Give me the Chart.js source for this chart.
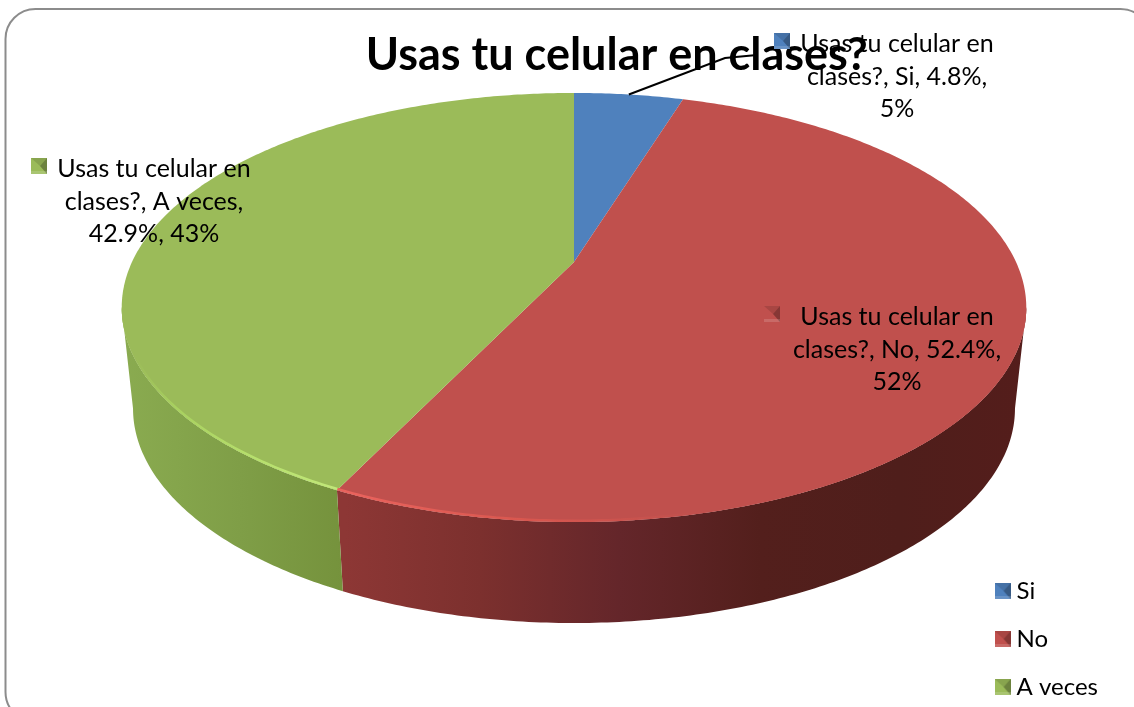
<!DOCTYPE html>
<html>
<head>
<meta charset="utf-8">
<style>
    html, body { margin: 0; padding: 0; background: #fff; overflow: hidden; }
    #wrap { position: relative; width: 1134px; height: 707px; }
</style>
<script src="https://cdn.jsdelivr.net/npm/chart.js"></script>
</head>
<body>
<div id="wrap"><canvas id="myChart" width="1134" height="707"></canvas></div>
<script>
// values as printed on the labels
const titleText = 'Usas tu celular en clases?';
const categories = ['Si', 'No', 'A veces'];
const values = [4.8, 52.4, 42.9];
const labelLines = [
    ['Usas tu celular en', 'clases?, Si, 4.8%,', '5%'],
    ['Usas tu celular en', 'clases?, No, 52.4%,', '52%'],
    ['Usas tu celular en', 'clases?, A veces,', '42.9%, 43%']
];
const topColors = ['#4f81bd', '#c0504d', '#9bbb59'];

// where the label blocks sit: centre x, first line y, swatch x
const labelPlaces = [
    { x: 897, y: 44, sx: 782 },
    { x: 897, y: 317, sx: 772 },
    { x: 154, y: 169, sx: 39 }
];

// perspective of the pie: centre of the disc lands on (px, py)
const px = 574, py = 262, ax = 442, by = 204.9, k = -0.212;
const depth = 101, lowerShrink = 0.975;

function project(t, lower) {
    const u = Math.cos(t), v = Math.sin(t), w = 1 + k * v;
    const x = ax * u / w, y = by * v / w;
    if (lower) return [px + x * lowerShrink, py + y + depth];
    return [px + x, py + y];
}

function rimPoints(a, b, lower) {
    const pts = [];
    const n = Math.max(2, Math.ceil(Math.abs(b - a) * 90));
    for (let i = 0; i <= n; i++) pts.push(project(a + (b - a) * i / n, lower));
    return pts;
}

function tracePoints(ctx, pts, first) {
    pts.forEach((p, i) => {
        if (i === 0 && first) ctx.moveTo(p[0], p[1]);
        else ctx.lineTo(p[0], p[1]);
    });
}

// the library still works out the angles, only the outline is foreshortened
Chart.ArcElement.prototype.draw = function (ctx) {
    ctx.save();
    ctx.fillStyle = this.options.backgroundColor;
    ctx.beginPath();
    ctx.moveTo(px, py);
    tracePoints(ctx, rimPoints(this.startAngle, this.endAngle, false), false);
    ctx.closePath();
    ctx.fill();
    ctx.restore();
};

const frontStart = Math.asin(-k), frontEnd = Math.PI - Math.asin(-k);

function gradientX(ctx, stops) {
    const x0 = stops[0][0], x1 = stops[stops.length - 1][0];
    const g = ctx.createLinearGradient(x0, 0, x1, 0);
    stops.forEach(s => g.addColorStop((s[0] - x0) / (x1 - x0), s[1]));
    return g;
}

const wallStops = [
    null,
    [[345, '#8d3735'], [480, '#7c302e'], [620, '#64262a'], [760, '#531f1c'], [900, '#4f1e1b'], [1027, '#541d1b']],
    [[122, '#8aab50'], [240, '#7f9e47'], [345, '#75923c']]
];
const rimStops = [
    null,
    [[345, '#ea635d'], [520, '#d9574f'], [700, '#c0504d']],
    [[135, '#9bbb59'], [175, '#a8d05f'], [250, '#b6df6c'], [345, '#c2e87a']]
];

const pie3d = {
    id: 'pie3d',
    beforeDraw(chart) {
        const ctx = chart.ctx;
        ctx.save();
        ctx.fillStyle = '#fff';
        ctx.fillRect(0, 0, chart.width, chart.height);
        ctx.strokeStyle = '#8c8c8c';
        ctx.lineWidth = 2;
        ctx.beginPath();
        ctx.roundRect(5.5, 9, 1145, 713, 30);
        ctx.stroke();
        ctx.restore();
    },
    beforeDatasetsDraw(chart) {
        const ctx = chart.ctx;
        chart.getDatasetMeta(0).data.forEach((arc, i) => {
            const a = Math.max(arc.startAngle, frontStart);
            const b = Math.min(arc.endAngle, frontEnd);
            if (b <= a || !wallStops[i]) return;
            ctx.save();
            ctx.fillStyle = gradientX(ctx, wallStops[i]);
            ctx.beginPath();
            const upper = rimPoints(a, b, false);
            const lower = rimPoints(b, a, true);
            tracePoints(ctx, upper, true);
            tracePoints(ctx, lower, false);
            ctx.closePath();
            ctx.fill();
            ctx.restore();
        });
    },
    afterDatasetsDraw(chart) {
        const ctx = chart.ctx;
        chart.getDatasetMeta(0).data.forEach((arc, i) => {
            const a = Math.max(arc.startAngle, frontStart);
            const b = Math.min(arc.endAngle, frontEnd);
            if (b <= a || !rimStops[i]) return;
            ctx.save();
            // keep the highlight on the top face, nothing hangs over the wall
            ctx.beginPath();
            tracePoints(ctx, rimPoints(0, Math.PI * 2, false), true);
            ctx.closePath();
            ctx.clip();
            ctx.strokeStyle = gradientX(ctx, rimStops[i]);
            ctx.lineWidth = 5;
            ctx.beginPath();
            tracePoints(ctx, rimPoints(a, b, false), true);
            ctx.stroke();
            ctx.restore();
        });
    },
    afterDraw(chart) {
        const ctx = chart.ctx;
        const arcs = chart.getDatasetMeta(0).data;

        // leader line from the small slice up to its label
        const mid = (arcs[0].startAngle + arcs[0].endAngle) / 2;
        const from = project(mid, false);
        ctx.save();
        ctx.strokeStyle = '#000';
        ctx.lineWidth = 2;
        ctx.beginPath();
        ctx.moveTo(from[0], from[1]);
        ctx.lineTo(725, 58);
        ctx.lineTo(757, 55);
        ctx.stroke();

        ctx.fillStyle = '#000';
        ctx.font = '25px Lato';
        ctx.textAlign = 'center';
        ctx.textBaseline = 'middle';
        labelLines.forEach((lines, i) => {
            const place = labelPlaces[i];
            lines.forEach((line, j) => ctx.fillText(line, place.x, place.y + j * 32.5));
            ctx.drawImage(swatches[i], place.sx - 8, place.y - 11);
        });
        ctx.restore();
    }
};

function makeSwatch(color) {
    const c = document.createElement('canvas');
    c.width = 16;
    c.height = 16;
    const g = c.getContext('2d');
    g.fillStyle = color;
    g.fillRect(0, 0, 16, 16);
    g.fillStyle = 'rgba(0,0,0,0.3)';
    g.beginPath();
    g.moveTo(16, 0); g.lineTo(16, 16); g.lineTo(9, 8);
    g.fill();
    g.fillStyle = 'rgba(0,0,0,0.12)';
    g.beginPath();
    g.moveTo(0, 0); g.lineTo(16, 0); g.lineTo(9, 8);
    g.fill();
    g.fillStyle = 'rgba(255,255,255,0.15)';
    g.fillRect(0, 13, 16, 3);
    return c;
}
const swatches = topColors.map(makeSwatch);

new Chart(document.getElementById('myChart'), {
    type: 'pie',
    data: {
        labels: categories,
        datasets: [{
            data: values,
            backgroundColor: topColors,
            borderWidth: 0
        }]
    },
    plugins: [pie3d],
    options: {
        responsive: false,
        animation: false,
        layout: {
            padding: { left: 257, right: 26, top: 0, bottom: -16 }
        },
        plugins: {
            tooltip: { enabled: false },
            title: {
                display: true,
                text: titleText,
                fullSize: false,
                color: '#000',
                font: { family: 'Lato', size: 45, weight: 'bold' },
                padding: { top: 28, bottom: 10 }
            },
            legend: {
                position: 'right',
                align: 'end',
                labels: {
                    color: '#000',
                    font: { family: 'Lato', size: 24 },
                    usePointStyle: true,
                    pointStyleWidth: 4,
                    boxHeight: 16,
                    padding: 24,
                    generateLabels: () => categories.map((name, i) => ({
                        text: name,
                        pointStyle: swatches[i],
                        fontColor: '#000',
                        hidden: false,
                        index: i
                    }))
                }
            }
        }
    }
});
</script>
</body>
</html>
